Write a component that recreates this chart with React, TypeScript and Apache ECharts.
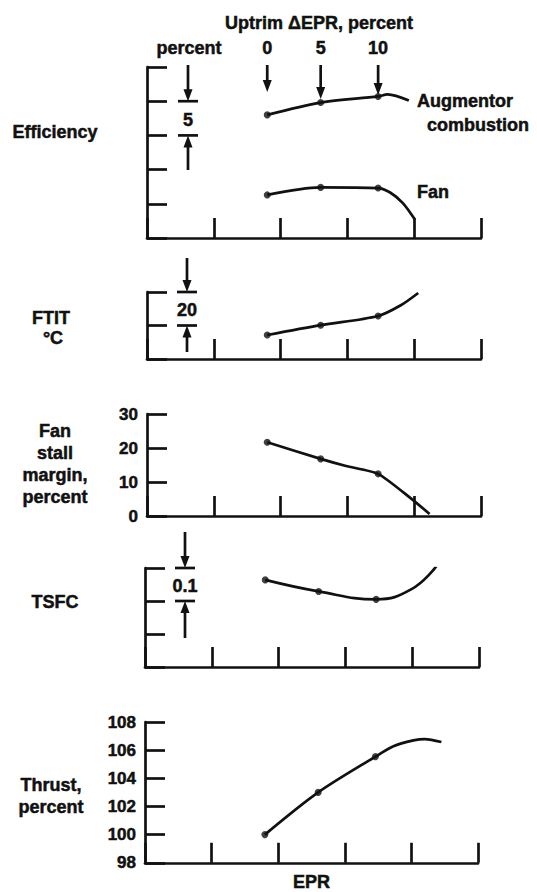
import React, { useEffect, useRef } from "react";
import * as echarts from "echarts";

// Uptrim ΔEPR markers (percent) and the EPR positions where they fall
const uptrimLabels = ["0", "5", "10"];
const uptrimEPR = [1.8, 2.6, 3.46];

// Efficiency panel (percent, arbitrary origin, 5 per tick)
const augEPR = [1.8, 2.6, 3.46, 3.6, 3.92];
const augEff = [18.0, 19.8, 20.7, 21.0, 20.1];
const fanEPR = [1.8, 2.6, 3.46, 3.64, 3.83, 4.01];
const fanEff = [6.3, 7.4, 7.3, 6.65, 5.1, 2.7];

// FTIT panel (°C, 20 per tick)
const ftitEPR = [1.8, 2.6, 3.46, 3.8, 4.06];
const ftitVal = [14.3, 20.2, 25.7, 32.1, 39.4];

// Fan stall margin (percent)
const stallEPR = [1.8, 2.6, 2.98, 3.46, 3.95, 4.23];
const stallVal = [21.7, 16.8, 14.7, 12.4, 5.2, 0.6];
const stallTicks = [0, 10, 20, 30];

// TSFC (0.1 per tick)
const tsfcEPR = [1.8, 2.6, 3.46, 3.99, 4.36];
const tsfcVal = [0.264, 0.229, 0.205, 0.236, 0.305];

// Thrust (percent)
const thrustEPR = [1.8, 2.6, 3.46, 3.73, 4.03, 4.2, 4.45];
const thrustVal = [100.0, 103.0, 105.54, 106.28, 106.69, 106.79, 106.58];
const thrustTicks = [98, 100, 102, 104, 106, 108];

// EPR axis ticks (unlabelled)
const eprTicks = [0, 1, 2, 3, 4, 5];

export default function App() {
  const ref = useRef<HTMLDivElement>(null);

  useEffect(() => {
    if (!ref.current) return;
    const chart = echarts.init(ref.current, undefined, { renderer: "svg" });
    const FONT = "'Liberation Sans', Arial, Helvetica, sans-serif";
    const INK = "#111";
    const LW = 2.7;

    const grids = [
      { left: 147, top: 67, width: 334, height: 171 },
      { left: 147, top: 292, width: 334, height: 67 },
      { left: 147, top: 414, width: 334, height: 102 },
      { left: 145, top: 568, width: 334, height: 99 },
      { left: 145, top: 722, width: 333, height: 145 },
    ];
    const yCfg = [
      { min: 0, max: 25, interval: 5, labels: false },
      { min: 0, max: 40, interval: 20, labels: false },
      { min: stallTicks[0], max: stallTicks[stallTicks.length - 1], interval: stallTicks[1] - stallTicks[0], labels: true },
      { min: 0, max: 0.3, interval: 0.1, labels: false },
      { min: thrustTicks[0], max: thrustTicks[thrustTicks.length - 1], interval: thrustTicks[1] - thrustTicks[0], labels: true },
    ];

    const curve = (i: number, xs: number[], ys: number[], smooth = 0.3) => {
      const pts = xs.map((x, k) => [x, ys[k]]);
      return [
        {
          type: "line",
          xAxisIndex: i,
          yAxisIndex: i,
          data: pts,
          smooth,
          showSymbol: false,
          silent: true,
          lineStyle: { color: INK, width: LW },
        },
        {
          type: "scatter",
          xAxisIndex: i,
          yAxisIndex: i,
          data: pts.filter((p) => uptrimEPR.includes(p[0])),
          symbol: "circle",
          symbolSize: 7,
          silent: true,
          itemStyle: { color: INK },
        },
      ];
    };

    chart.setOption({
      animation: false,
      backgroundColor: "#fff",
      grid: grids,
      xAxis: grids.map((_, i) => ({
        gridIndex: i,
        type: "value",
        min: eprTicks[0],
        max: eprTicks[eprTicks.length - 1],
        interval: eprTicks[1] - eprTicks[0],
        axisLine: { show: true, onZero: false, lineStyle: { color: INK, width: LW } },
        axisTick: { show: true, inside: true, length: 20, lineStyle: { color: INK, width: LW } },
        axisLabel: { show: false },
        splitLine: { show: false },
        ...(i === 4
          ? {
              name: "EPR",
              nameLocation: "middle",
              nameGap: 10,
              nameTextStyle: {
                color: INK,
                fontSize: 18,
                fontWeight: "bold",
                fontFamily: FONT,
                textBorderColor: INK,
                textBorderWidth: 0.5,
              },
            }
          : {}),
      })),
      yAxis: yCfg.map((c, i) => ({
        gridIndex: i,
        type: "value",
        min: c.min,
        max: c.max,
        interval: c.interval,
        axisLine: { show: true, onZero: false, lineStyle: { color: INK, width: LW } },
        axisTick: { show: true, inside: true, length: 20, lineStyle: { color: INK, width: LW } },
        axisLabel: {
          show: c.labels,
          color: INK,
          fontSize: 17,
          fontWeight: "bold",
          fontFamily: FONT,
          margin: 9,
          textBorderColor: INK,
          textBorderWidth: 0.5,
        },
        splitLine: { show: false },
      })),
      series: [
        ...curve(0, augEPR, augEff),
        ...curve(0, fanEPR, fanEff),
        ...curve(1, ftitEPR, ftitVal),
        ...curve(2, stallEPR, stallVal, 0.2),
        ...curve(3, tsfcEPR, tsfcVal, 0.45),
        ...curve(4, thrustEPR, thrustVal),
      ],
    });

    const els: any[] = [];
    const text = (t: string, x: number, y: number, align = "center", lh?: number) =>
      els.push({
        type: "text",
        silent: true,
        style: {
          text: t,
          x,
          y,
          font: `bold 18px ${FONT}`,
          fill: INK,
          stroke: INK,
          lineWidth: 0.5,
          textAlign: align,
          textVerticalAlign: "middle",
          align,
          verticalAlign: "middle",
          ...(lh ? { lineHeight: lh } : {}),
        },
      });
    const line = (x1: number, y1: number, x2: number, y2: number) =>
      els.push({
        type: "line",
        silent: true,
        shape: { x1, y1, x2, y2 },
        style: { stroke: INK, lineWidth: LW },
      });
    const arrow = (x: number, yFrom: number, yTip: number) => {
      const d = yTip > yFrom ? 1 : -1;
      line(x, yFrom, x, yTip - d * 8);
      els.push({
        type: "polygon",
        silent: true,
        shape: { points: [[x - 4.5, yTip - d * 12], [x + 4.5, yTip - d * 12], [x, yTip]] },
        style: { fill: INK },
      });
    };
    const px = (axis: number, v: number) => chart.convertToPixel({ yAxisIndex: axis } as any, v) as number;
    const pxX = (axis: number, v: number) => chart.convertToPixel({ xAxisIndex: axis } as any, v) as number;

    const scaleBar = (axis: number, vTop: number, vBot: number, label: string, cx: number, fromY: number, toY: number) => {
      const yT = px(axis, vTop);
      const yB = px(axis, vBot);
      line(cx - 10, yT, cx + 10, yT);
      line(cx - 10, yB, cx + 10, yB);
      arrow(cx, fromY, yT);
      arrow(cx, toY, yB);
      text(label, cx, (yT + yB) / 2 + 1.5);
    };

    // Top header
    text("Uptrim \u0394EPR, percent", 319, 23);
    text("percent", 189, 48);
    const tips = [92, 99, 95];
    uptrimLabels.forEach((lab, k) => {
      const x = pxX(0, uptrimEPR[k]);
      text(lab, x, 48);
      arrow(x, 65, tips[k]);
    });

    // Scale indicators
    scaleBar(0, 20, 15, "5", 188, 65, 170);
    scaleBar(1, 40, 20, "20", 187, 258, 352);
    scaleBar(3, 0.3, 0.2, "0.1", 185, 532, 638);

    // Panel labels
    text("Efficiency", 55, 132);
    text("Augmentor", 417, 101, "left");
    text("combustion", 427, 125, "left");
    text("Fan", 417, 192, "left");
    text("FTIT", 51, 318);
    text("\u00B0C", 53, 338);
    text("Fan\nstall\nmargin,\npercent", 55, 464, "center", 22);
    text("TSFC", 55, 602);
    text("Thrust,\npercent", 51, 796, "center", 22);

    chart.setOption({ graphic: { elements: els } });

    return () => chart.dispose();
  }, []);

  return (
    <div
      ref={ref}
      style={{ position: "absolute", left: 0, top: 0, width: 537, height: 892, background: "#fff" }}
    />
  );
}
